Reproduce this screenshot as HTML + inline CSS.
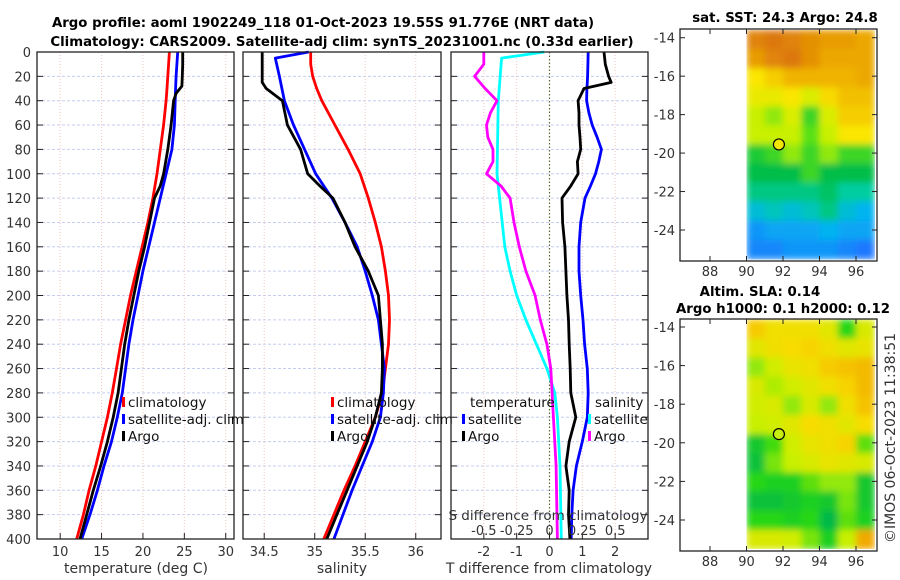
<!DOCTYPE html>
<html><head><meta charset="utf-8"><style>
body{margin:0;background:#fff;}
svg{display:block;font-family:"DejaVu Sans","Liberation Sans",sans-serif;}
.tk{font-size:13px;fill:#333;}
.tt{font-size:13.3px;font-weight:bold;fill:#000;}
.lg{font-size:13.5px;fill:#111;}
</style></head><body>
<svg id="chart" width="900" height="580" viewBox="0 0 900 580" xmlns="http://www.w3.org/2000/svg">
<defs>
<filter id="smooth" x="0" y="0" width="1" height="1"><feGaussianBlur stdDeviation="3.5" edgeMode="duplicate"/></filter>
<clipPath id="clip1"><rect x="746.5" y="29" width="129" height="231"/></clipPath>
<clipPath id="clip2"><rect x="746.5" y="319" width="129" height="230"/></clipPath>
</defs>
<text class="tt" x="323" y="27" text-anchor="middle">Argo profile: aoml 1902249_118 01-Oct-2023 19.55S 91.776E (NRT data)</text>
<text class="tt" x="342" y="46" text-anchor="middle">Climatology: CARS2009. Satellite-adj clim: synTS_20231001.nc (0.33d earlier)</text>
<text class="tt" x="785" y="22" text-anchor="middle">sat. SST: 24.3 Argo: 24.8</text>
<text class="tt" x="760" y="296" text-anchor="middle">Altim. SLA: 0.14</text>
<text class="tt" x="783" y="313" text-anchor="middle">Argo h1000: 0.1 h2000: 0.12</text>
<text class="tk" transform="translate(895,438) rotate(-90)" text-anchor="middle" style="font-size:14px">©IMOS 06-Oct-2023 11:38:51</text>
</svg>
<script>
// ---- data ----
const depths = [0,10,20,30,40,60,80,100,120,140,160,180,200,220,240,260,280,300,320,340,360,380,400];
const tempClim = [23.2,23.1,23.0,22.9,22.8,22.5,22.1,21.7,21.2,20.6,19.9,19.2,18.5,17.9,17.3,16.8,16.3,15.7,15.0,14.3,13.5,12.8,12.0];
const tempSat = [24.2,24.1,24.0,23.95,23.9,23.8,23.5,22.8,22.1,21.4,20.7,20.0,19.4,18.8,18.3,17.9,17.5,16.9,16.2,15.3,14.5,13.6,12.6];
const argoDepthsT = [0,10,20,28,34,40,60,80,100,110,120,140,160,180,200,220,240,260,280,300,320,340,360,380,400];
const tempArgo = [24.8,24.8,24.75,24.7,24.0,23.7,23.4,23.0,22.5,22.1,21.4,20.8,20.2,19.5,18.9,18.3,17.8,17.4,17.0,16.4,15.7,14.9,14.0,13.2,12.4];
const salClim = [34.96,34.96,34.98,35.02,35.07,35.2,35.33,35.45,35.53,35.6,35.66,35.7,35.73,35.74,35.73,35.7,35.67,35.6,35.5,35.4,35.29,35.19,35.09];
const satDepthsS = [0,5,20,40,60,80,100,120,140,160,180,200,220,240,260,280,300,320,340,360,380,400];
const salSat = [34.94,34.61,34.65,34.7,34.79,34.9,35.01,35.17,35.3,35.42,35.5,35.57,35.63,35.66,35.69,35.68,35.65,35.57,35.47,35.37,35.28,35.19];
const argoDepthsS = [0,25,30,35,40,60,80,100,110,120,140,160,180,200,220,240,260,280,300,320,340,360,380,400];
const salArgo = [34.48,34.48,34.52,34.6,34.68,34.73,34.86,34.93,35.05,35.18,35.3,35.4,35.53,35.63,35.65,35.67,35.67,35.66,35.6,35.52,35.42,35.32,35.22,35.12];
const diffDepths = [0,10,20,25,30,40,50,60,70,80,90,100,110,120,140,160,180,200,220,240,260,280,300,320,340,360,380,400];
const dTsat = [1.18,1.17,1.16,1.15,1.14,1.13,1.2,1.3,1.45,1.58,1.5,1.4,1.25,1.08,0.95,0.9,0.9,0.95,1.02,1.07,1.15,1.18,1.15,1.0,0.82,0.72,0.68,0.66];
const dTargo = [1.66,1.7,1.8,1.88,1.05,0.87,0.9,0.9,0.93,0.95,0.85,0.87,0.65,0.38,0.4,0.47,0.5,0.53,0.58,0.6,0.63,0.65,0.8,0.6,0.5,0.6,0.58,0.62];
const dSsatDepths = [0,5,40,100,140,160,180,200,220,240,260,280,300,340,400];
const dSsat = [-0.04,-0.365,-0.39,-0.40,-0.36,-0.34,-0.3,-0.25,-0.18,-0.1,-0.02,0.04,0.06,0.08,0.09];
const dSargoDepths = [0,10,20,30,40,50,60,70,80,90,100,110,120,140,160,180,200,220,240,260,280,300,340,400];
const dSargo = [-0.5,-0.5,-0.57,-0.49,-0.4,-0.45,-0.48,-0.47,-0.43,-0.43,-0.48,-0.37,-0.3,-0.27,-0.23,-0.18,-0.11,-0.07,-0.02,0.01,0.02,0.03,0.05,0.06];
const depthTicks = [0,20,40,60,80,100,120,140,160,180,200,220,240,260,280,300,320,340,360,380,400];
const tempTicks = [10,15,20,25,30];
const salTicks = [34.5,35,35.5,36];
const salTickLabels = ["34.5","35","35.5","36"];
const dTTicks = [-2,-1,0,1,2];
const dSTicks = [-0.5,-0.25,0,0.25,0.5];
const dSTickLabels = ["-0.5","-0.25","0","0.25","0.5"];
const mapLonTicks = [88,90,92,94,96];
const mapLatTicks = [-14,-16,-18,-20,-22,-24];
const argoLon = 91.776, argoLat = -19.55;
const sstGrid = [
 [25.6,25.7,25.6,25.5,25.4,25.4,25.3],
 [25.4,25.6,25.7,25.5,25.3,25.3,25.3],
 [24.8,25.0,25.2,25.2,25.2,25.2,25.3],
 [24.7,24.7,24.8,24.6,24.9,25.1,25.1],
 [24.5,24.4,24.6,24.2,24.6,25.0,25.0],
 [24.5,24.5,24.5,24.3,24.5,24.8,24.8],
 [24.1,24.2,24.4,24.2,24.4,24.2,24.2],
 [24.0,24.0,24.0,24.2,24.0,24.0,24.0],
 [23.8,23.8,23.8,23.8,23.9,23.7,23.7],
 [23.5,23.6,23.5,23.6,23.8,23.5,23.4],
 [23.2,23.3,23.3,23.3,23.4,23.3,23.3],
 [23.1,23.1,23.2,23.2,23.2,23.1,23.0]];
const slaGrid = [
 [0.2,0.17,0.17,0.17,0.15,0.06,0.14],
 [0.15,0.17,0.18,0.19,0.17,0.15,0.16],
 [0.1,0.13,0.16,0.17,0.2,0.21,0.22],
 [0.14,0.11,0.13,0.15,0.17,0.19,0.22],
 [0.13,0.14,0.1,0.14,0.1,0.17,0.21],
 [0.12,0.13,0.15,0.18,0.17,0.15,0.18],
 [0.04,0.07,0.13,0.16,0.17,0.19,0.08],
 [0.03,0.09,0.12,0.14,0.16,0.15,0.14],
 [0.06,0.05,0.05,0.08,0.1,0.1,0.04],
 [0.03,0.03,0.04,0.05,0.04,0.09,0.04],
 [0.06,0.06,0.05,0.06,0.02,0.08,0.05],
 [0.14,0.14,0.13,0.09,0.05,0.12,0.24]];

// ---- drawing ----
const svg = document.getElementById('chart');
const NS = 'http://www.w3.org/2000/svg';
function mk(tag, attrs, parent){const e=document.createElementNS(NS,tag);for(const k in attrs)e.setAttribute(k,attrs[k]);(parent||svg).appendChild(e);return e;}
const Y0=52, Y1=539;
const yD = d => Y0 + (d/400)*(Y1-Y0);
function lin(d0,d1,r0,r1){return v => r0 + (v-d0)/(d1-d0)*(r1-r0);}
const P1={x0:37,x1:234}, P2={x0:243,x1:441}, P3={x0:451,x1:648};
const xT = lin(7.2,31,P1.x0,P1.x1);
const xS = lin(34.29,36.25,P2.x0,P2.x1);
const xdT = lin(-3,3,P3.x0,P3.x1);
const xdS = lin(-0.75,0.75,P3.x0,P3.x1);

function grid(p, xs, xfn){
  depthTicks.forEach(d=>{ if(d>0&&d<400){const l=mk('line',{x1:p.x0,x2:p.x1,y1:yD(d),y2:yD(d),stroke:'#c6cdf0','stroke-width':1,'stroke-dasharray':'3,2'});
     }});
  xs.forEach(v=>{const x=xfn(v); const l=mk('line',{x1:x,x2:x,y1:Y0,y2:Y1,stroke:'#f0c8c0','stroke-width':1,'stroke-dasharray':'1,2'});
     });
}
function frame(p,name){
  const r=mk('rect',{x:p.x0,y:Y0,width:p.x1-p.x0,height:Y1-Y0,fill:'none',stroke:'#222','stroke-width':1.3});
   
  depthTicks.forEach(d=>{mk('line',{x1:p.x0,x2:p.x0+6,y1:yD(d),y2:yD(d),stroke:'#222'});mk('line',{x1:p.x1-6,x2:p.x1,y1:yD(d),y2:yD(d),stroke:'#222'});});
}
function xticks(p, vals, labels, xfn, ylab, name){
  vals.forEach((v,i)=>{const x=xfn(v);
    mk('line',{x1:x,x2:x,y1:Y1-6,y2:Y1,stroke:'#222'});
    const t=mk('text',{x:x,y:ylab,'text-anchor':'middle',class:'tk'}); t.textContent=labels[i];
     });
}
function line(xs, ds, xfn, color, w, name){
  const pts=xs.map((v,i)=>xfn(v).toFixed(1)+','+yD(ds[i]).toFixed(1)).join(' ');
  const l=mk('polyline',{points:pts,fill:'none',stroke:color,'stroke-width':w,'stroke-linejoin':'round'});
   
}
function legend(x,y,color,label){
  const g=mk('g',{});  
  mk('rect',{x:x,y:y-10,width:3,height:10,fill:color},g);
  const t=mk('text',{x:x+6,y:y,class:'lg'},g); t.textContent=label;
}

// panel 1
grid(P1,tempTicks,xT);
line(tempClim,depths,xT,'#ff0000',2.8,'temp-climatology-line');
line(tempSat,depths,xT,'#0000ff',2.8,'temp-satellite-line');
line(tempArgo,argoDepthsT,xT,'#000',2.8,'temp-argo-line');
frame(P1,'temperature-panel');
depthTicks.forEach(d=>{const t=mk('text',{x:31,y:yD(d)+5,'text-anchor':'end',class:'tk'});t.textContent=d;
   });
xticks(P1,tempTicks,tempTicks.map(String),xT,556,'temp-tick-label');
let t=mk('text',{x:136,y:573,'text-anchor':'middle',class:'tk',style:'font-size:14px'});t.textContent='temperature (deg C)';

legend(122,407,'#ff0000','climatology');legend(122,424,'#0000ff','satellite-adj. clim');legend(122,441,'#000','Argo');

// panel 2
grid(P2,salTicks,xS);
line(salClim,depths,xS,'#ff0000',2.8,'sal-climatology-line');
line(salSat,satDepthsS,xS,'#0000ff',2.8,'sal-satellite-line');
line(salArgo,argoDepthsS,xS,'#000',2.8,'sal-argo-line');
frame(P2,'salinity-panel');
xticks(P2,salTicks,salTickLabels,xS,556,'salinity-tick-label');
t=mk('text',{x:342,y:573,'text-anchor':'middle',class:'tk',style:'font-size:14px'});t.textContent='salinity';

legend(331,407,'#ff0000','climatology');legend(331,424,'#0000ff','satellite-adj. clim');legend(331,441,'#000','Argo');

// panel 3
grid(P3,[-2,-1,1,2],xdT);
let z=mk('line',{x1:xdT(0),x2:xdT(0),y1:Y0,y2:Y1,stroke:'#556633','stroke-width':1.2,'stroke-dasharray':'1.5,2'});

line(dSsat,dSsatDepths,xdS,'#00ffff',2.8,'dsal-satellite-line');
line(dSargo,dSargoDepths,xdS,'#ff00ff',2.8,'dsal-argo-line');
line(dTsat,diffDepths,xdT,'#0000ff',2.8,'dtemp-satellite-line');
line(dTargo,diffDepths,xdT,'#000',2.8,'dtemp-argo-line');
frame(P3,'difference-panel');
xticks(P3,dTTicks,dTTicks.map(String),xdT,556,'dtemp-tick-label');
dSTicks.forEach((v,i)=>{const tt=mk('text',{x:xdS(v),y:535,'text-anchor':'middle',class:'tk'});tt.textContent=dSTickLabels[i];
  });
t=mk('text',{x:548,y:520,'text-anchor':'middle',class:'tk',style:'font-size:13.5px'});t.textContent='S difference from climatology';

t=mk('text',{x:549,y:573,'text-anchor':'middle',class:'tk',style:'font-size:14px'});t.textContent='T difference from climatology';

t=mk('text',{x:470,y:407,class:'lg'});t.textContent='temperature';

legend(462,424,'#0000ff','satellite');legend(462,441,'#000','Argo');
t=mk('text',{x:595,y:407,class:'lg'});t.textContent='salinity';

legend(588,424,'#00ffff','satellite');legend(588,441,'#ff00ff','Argo');

// maps
function interp(stops,v){
  if(v<=stops[0][0])return stops[0][1];
  for(let i=1;i<stops.length;i++){if(v<=stops[i][0]){const a=stops[i-1],b=stops[i],f=(v-a[0])/(b[0]-a[0]);
    return a[1].map((c,k)=>Math.round(c+(b[1][k]-c)*f));}}
  return stops[stops.length-1][1];
}
const sstStops=[[23.0,[30,120,255]],[23.4,[0,180,240]],[23.7,[0,205,160]],[24.0,[0,190,70]],[24.3,[90,225,20]],[24.5,[200,240,0]],[24.8,[250,230,0]],[25.2,[240,180,0]],[25.7,[220,120,10]]];
const slaStops=[[0.02,[0,185,70]],[0.06,[40,215,20]],[0.12,[200,240,0]],[0.18,[248,220,0]],[0.25,[240,160,0]]];
function map(M,gridv,stops,name,dotColor,clipId){
  const xL=lin(88,96,710,856), yL=lin(-14,-24,M.t14,M.t24);
  const latTop=-13.6, latBot=-25.5, rows=gridv.length;
  const dLat=(latTop-latBot)/rows;
  const cg=mk('g',{'clip-path':'url(#'+clipId+')'});
   
  const g=mk('g',{filter:'url(#smooth)'},cg);
  gridv.forEach((row,r)=>row.forEach((v,c)=>{
    const x0=xL(90+c), x1=xL(91+c), ya=yL(latTop-r*dLat), yb=yL(latTop-(r+1)*dLat);
    const col=interp(stops,v);
    const cell=mk('rect',{x:x0.toFixed(1),y:ya.toFixed(1),width:(x1-x0+0.6).toFixed(1),height:(yb-ya+0.6).toFixed(1),fill:'rgb('+col.join(',')+')'},g);
    
    
  }));
  const r=mk('rect',{x:680,y:M.y0,width:197,height:M.y1-M.y0,fill:'none',stroke:'#222','stroke-width':1.3});
   
  mapLonTicks.forEach(v=>{const x=xL(v);mk('line',{x1:x,x2:x,y1:M.y1-5,y2:M.y1,stroke:'#222'});mk('line',{x1:x,x2:x,y1:M.y0,y2:M.y0+5,stroke:'#222'});
    const tt=mk('text',{x:x,y:M.y1+15,'text-anchor':'middle',class:'tk'});tt.textContent=v;
    });
  mapLatTicks.forEach(v=>{const y=yL(v);mk('line',{x1:680,x2:685,y1:y,y2:y,stroke:'#222'});mk('line',{x1:872,x2:877,y1:y,y2:y,stroke:'#222'});
    const tt=mk('text',{x:675,y:y+5,'text-anchor':'end',class:'tk'});tt.textContent=v;
    });
  const dot=mk('circle',{cx:xL(argoLon),cy:yL(argoLat),r:5.5,fill:dotColor,stroke:'#000','stroke-width':1.2});
   
}
map({y0:29,y1:261,t14:37.7,t24:230},sstGrid,sstStops,'sst-map','#f2e600','clip1');
map({y0:319,y1:551,t14:327,t24:520},slaGrid,slaStops,'sla-map','#c8ee10','clip2');
</script>
</body></html>
